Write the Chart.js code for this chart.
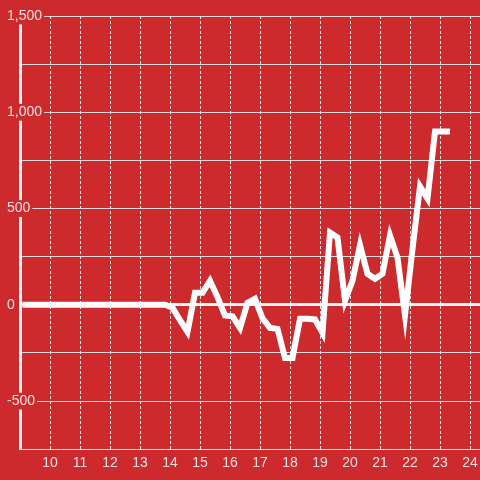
<!DOCTYPE html>
<html>
<head>
<meta charset="utf-8">
<script src="https://cdn.jsdelivr.net/npm/chart.js@4.4.1/dist/chart.umd.min.js"></script>
<style>
  html, body { margin: 0; padding: 0; background: #cd2a2e; }
  #wrap { width: 480px; height: 480px; }
</style>
</head>
<body>
<div id="wrap"><canvas id="chart" width="480" height="480"></canvas></div>
<script>
// Time of day (hours) for each sample
const hours = [
  9.0833, 9.3333, 9.5833, 9.8333, 10.0833, 10.3333, 10.5833, 10.8333,
  11.0833, 11.3333, 11.5833, 11.8333, 12.0833, 12.3333, 12.5833, 12.8333,
  13.0833, 13.3333, 13.5833, 13.8333, 14.0833, 14.3333, 14.5833, 14.8333,
  15.0833, 15.3333, 15.5833, 15.8333, 16.0833, 16.3333, 16.5833, 16.8333,
  17.0833, 17.3333, 17.5833, 17.8333, 18.0833, 18.3333, 18.5833, 18.8333,
  19.0833, 19.3333, 19.5833, 19.8333, 20.0833, 20.3333, 20.5833, 20.8333,
  21.0833, 21.3333, 21.5833, 21.8333, 22.0833, 22.3333, 22.5833, 22.8333,
  23.0833, 23.3333
];

const values = [
  0, 0, 0, 0, 0, 0, 0, 0,
  0, 0, 0, 0, 0, 0, 0, 0,
  0, 0, 0, 0, -15, -80, -140, 62,
  62, 125, 40, -55, -60, -120, 10, 31,
  -70, -120, -125, -276, -276, -73, -73, -76,
  -146, 375, 350, 21, 125, 310, 161, 135,
  161, 360, 245, -55, 290, 615, 552, 900,
  900, 900
];

const hourTicks = [10, 11, 12, 13, 14, 15, 16, 17, 18, 19, 20, 21, 22, 23, 24];
const yLabelStep = 500;

const BG = '#cd2a2e';
const FONT = { family: "'Liberation Sans', Arial, sans-serif", size: 14 };

const points = hours.map((h, i) => ({ x: h, y: values[i] }));

new Chart(document.getElementById('chart'), {
  type: 'line',
  data: {
    datasets: [{
      data: points,
      borderColor: '#ffffff',
      borderWidth: 6,
      pointRadius: 0,
      tension: 0,
      fill: false
    }]
  },
  options: {
    responsive: false,
    animation: false,
    layout: { padding: { left: 7, top: 16, right: 0, bottom: 2 } },
    plugins: { legend: { display: false }, tooltip: { enabled: false } },
    scales: {
      x: {
        type: 'linear',
        min: 9,
        max: 24.3333,
        afterBuildTicks: scale => {
          scale.ticks = hourTicks.map(v => ({ value: v }));
        },
        afterFit: scale => {
          scale.paddingLeft = 0;
          scale.paddingRight = 0;
        },
        grid: { color: '#e4e4e4', lineWidth: 1, drawTicks: false },
        border: { color: '#e4e4e4', width: 1, dash: [3, 2] },
        ticks: {
          color: 'rgba(255,255,255,0.85)',
          font: FONT,
          padding: 6,
          maxRotation: 0,
          callback: v => String(v)
        }
      },
      y: {
        min: -750,
        max: 1500,
        afterFit: scale => { scale.width = 13; },
        grid: {
          drawTicks: false,
          color: ctx => ctx.tick && ctx.tick.value === 0 ? '#f4f4f4' : '#dcdcdc',
          lineWidth: ctx => ctx.tick && ctx.tick.value === 0 ? 3 : 1
        },
        border: { color: '#f2f2f2', width: 3 },
        ticks: {
          stepSize: 250,
          color: 'rgba(255,255,255,0.85)',
          font: FONT,
          mirror: true,
          padding: -13,
          showLabelBackdrop: ctx => ctx.tick && ctx.tick.value % yLabelStep === 0,
          backdropColor: BG,
          backdropPadding: { left: 2, right: 2, top: 0, bottom: 0 },
          callback: v => v % yLabelStep === 0 ? v.toLocaleString('en-US') : ''
        }
      }
    }
  }
});
</script>
</body>
</html>
